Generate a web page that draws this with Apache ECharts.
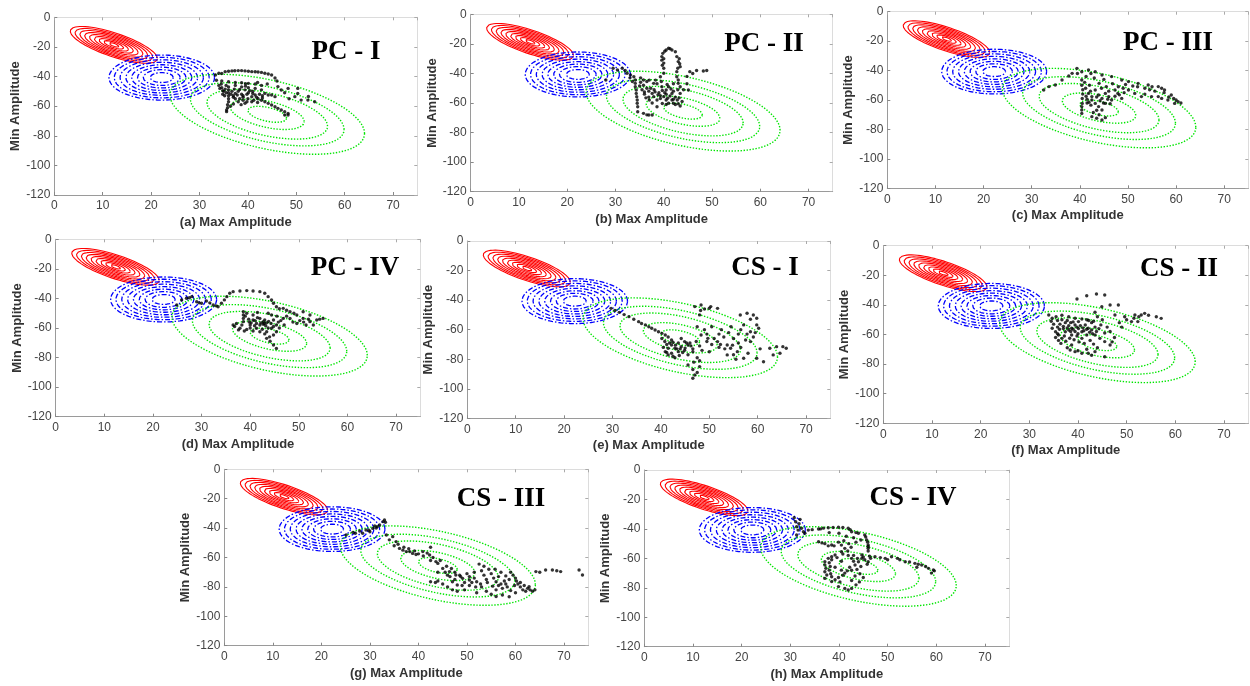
<!DOCTYPE html>
<html>
<head>
<meta charset="utf-8">
<script src="https://cdn.jsdelivr.net/npm/echarts@6/dist/echarts.min.js"></script>
<style>
html,body{margin:0;padding:0;background:#fff;}
#chart{width:1250px;height:686px;}
</style>
</head>
<body>
<div id="chart"></div>
<script>
// ---- data ----
const panelTitles = ['PC - I','PC - II','PC - III','PC - IV','CS - I','CS - II','CS - III','CS - IV'];
const xAxisNames = ['(a) Max Amplitude','(b) Max Amplitude','(c) Max Amplitude','(d) Max Amplitude','(e) Max Amplitude','(f) Max Amplitude','(g) Max Amplitude','(h) Max Amplitude'];
const yAxisName = 'Min Amplitude';

// Gaussian contour components: centre, spread (x,y), correlation, contour levels
const redCenter = [12.3,-18.6];
const redSpread = [9.0,12.4];
const redRho = -0.74;
const redLevels = [1,0.89,0.78,0.67,0.56,0.45,0.34,0.23,0.12];

const blueCenter = [22.2,-40.7];
const blueSpread = [10.9,15.2];
const blueRho = 0.0;
const blueLevels = [1,0.9,0.79,0.68,0.57,0.46,0.35,0.22];

const greenCenter = [44.0,-65.5];
const greenSpread = [20.1,27.0];
const greenRho = -0.48;
const greenLevels = [1,0.79,0.62,0.38,0.2];

const pointsA = [[33.3,-39],[34,-37.8],[35.3,-36.7],[36.7,-36.2],[38,-36],[39.4,-36.2],[40.8,-36.7],[42.1,-36.9],[43.5,-37.8],[44.9,-39],[45.6,-41],[46,-43],
[34.6,-38],[36,-36.4],[37.3,-36.1],[38.7,-36],[40.1,-36.4],[41.5,-36.8],[42.8,-37.2],[44.2,-38.3],
[33.5,-42.5],[34.6,-43],[36,-43.5],[37.4,-44],[38.7,-44.2],[40.1,-44.6],[41.5,-45],[42.8,-46],
[34,-46],[34.6,-47.5],[35.3,-48.5],[36,-47],[36,-49],[36,-51],[36,-53],[36,-55],[36,-57],[35.8,-59],[35.8,-61],[35.6,-62.6],[35.6,-63.7],[36.7,-50],[37.4,-51.4],[38,-50],[38.7,-52],[39.4,-49],[40.1,-51],[40.8,-53.6],[41.5,-52.5],[40,-55],[39,-56],[38,-57],[37.4,-55],[39.4,-58],[40.8,-57],[42.1,-55],[42.8,-56],[43.5,-57],[44.2,-58.1],[44.9,-59.2],[45.6,-60.4],[46.2,-61.5],[46.9,-62.6],[47.6,-63.7],[48.3,-64.9],[48.3,-66],[47.6,-66],[41.5,-48],[42.8,-49],[43.5,-51.4],[44.2,-52.5],[38.7,-47],[37.4,-46],[40.1,-47.5],[35,-50],[34.8,-52],[37,-53],[39,-54],[41,-50],[43,-53],
[34.2,-48],[34.8,-49.5],[35.5,-51],[35.2,-53],[36.5,-52],[37,-54],[37.8,-52.5],[38.3,-55],[39,-53],[39.8,-52],[40.4,-49.5],[41,-51.5],[41.8,-54],[42.4,-52],[43,-54.5],[37.2,-48.5],[38.3,-48.8],[39.5,-46.5],[36.4,-60],[37,-58.5],[38.6,-59],[39.8,-57],[41.2,-56],[42,-57.5],[34.5,-45],[35.5,-46],[42,-44],[44,-45],[39.5,-44.8],
[46.2,-46.8],[46.9,-49.1],[48.3,-48],[50.3,-48],[49.7,-53.6],[51,-55.9],[52.4,-55.9],[53.8,-57],[52.5,-53.5],[45.6,-53.6],[44.9,-52.5],[50.3,-51.4],[47.6,-51],[48.5,-55]];

const pointsB = [[28,-44.4],[29.5,-36.5],[30.4,-37.7],[31.4,-36.5],[32,-38],[32.4,-39.9],[33.1,-41],[33.8,-42.2],
[34.1,-44.4],[34.1,-46.7],[34.1,-49],[34.3,-51.2],[34.3,-53.5],[34.4,-55.7],[34.5,-58],[34.5,-60.2],[34.6,-62.5],[34.6,-65.9],[35.2,-46],[35.8,-48],[36.5,-50],[36.9,-52],[37.6,-53.5],[37.9,-55.7],[38.6,-58],[39.3,-57],[40,-55.7],[40.5,-58],[41,-60.2],[41.7,-58],[42,-60.2],[42.4,-61],[43,-60.5],[43.4,-62],[42.4,-56],[41.7,-53.5],[40.5,-51.2],[39.6,-49],[38.6,-47],[37.9,-46.7],[36.5,-45.5],[35.8,-44.4],[35.2,-43],[36.9,-56],[37.6,-60],[38.6,-62.5],[39.3,-55],[41,-49],[42,-47],[43,-46.7],[43.4,-49],[44.1,-51],[43.4,-53.5],[44.8,-47],[45.1,-51.2],[38,-51],[39,-53],[40.5,-54],[42,-52],[36,-54],
[33,-43],[33.5,-45.5],[35,-48.5],[35.5,-51],[36,-52.5],[36.3,-56.5],[37,-58],[37.3,-50],[38.2,-52.5],[38.8,-54.5],[39.7,-51.5],[40.2,-53],[40.8,-56.8],[41.3,-55.3],[42,-57.5],[42.8,-58],[43.2,-56.5],[42.9,-51],[41.5,-50.5],[40.7,-47.5],[39.5,-45.5],[38.3,-44.5],[37,-44.5],[43.8,-59],[39.7,-60.3],[40.5,-61],
[35.8,-67],[36.5,-68],[36.9,-68.1],[37.6,-68.1],
[39.6,-28.6],[39.8,-26.4],[40.5,-24.1],[41,-23],[41.7,-24.1],[42.4,-25.3],[42.7,-28.6],[43,-32],[43.4,-35.4],[42.7,-38.8],[40,-30],[40,-33],[40,-36.5],[40,-39.9],[39.3,-42.2],[42.7,-42.2],[43,-44.4],
[39.6,-31],[39.7,-34.5],[43.2,-30],[43.3,-33.5],[42.9,-36.5],[41.3,-23.3],[40.2,-25],
[45.4,-38.8],[46.8,-38],[48.2,-38.4],[48.9,-38],[44.8,-42],[46,-40]];

const pointsC = [[32.5,-53.2],[33.6,-50.9],[34.9,-49.8],[36.3,-46.4],[37.7,-43.7],[38.4,-41.9],[39.4,-38.5],[40.4,-40.8],
[41.8,-39.6],[43.2,-40.8],[44.6,-43],[46.6,-44.1],[48.7,-46.4],[50.1,-47.5],[52.1,-48.7],[54.2,-49.8],[56.3,-50.9],[57.6,-53.2],[59,-56.6],[60,-60],[60.4,-61.1],[59.7,-62.3],[58.3,-60],[57,-58.9],[56.3,-57.7],[54.9,-57.7],[53.5,-56],[52.8,-57.7],[51.4,-55.5],[50.1,-53.2],[49,-52],[52,-51],[54.5,-53],[57.5,-55],[55.6,-54],
[40.4,-46.4],[40.4,-50],[40.6,-53],[40.6,-56],[40.5,-59],[40.5,-62.3],[40.4,-64.5],[40.4,-66.8],[40.4,-69.1],[41.2,-52],[41.8,-55.5],[42.5,-57.7],[43.2,-53.2],[43.9,-56.6],[44.6,-58.9],[45.3,-55.5],[46,-57.7],[46.6,-60],[47.3,-53.2],[47.9,-55.5],[48.7,-58.9],[42.5,-60],[43.2,-62.3],[43.9,-64.5],[44.6,-66.8],[45.3,-62.3],[42,-50],[44,-48.7],[45.5,-50.9],[41.5,-62],[43.5,-67],[42.2,-54],[44.5,-52],[46,-54],
[41,-48],[41.3,-57.5],[41.5,-59.5],[41.9,-61.5],[42.3,-63.5],[43.5,-58],[44.2,-60.5],[44.9,-62],[45.8,-59.5],[46.3,-62.5],[47.3,-57.5],[48.2,-56.5],[49.2,-55],[48,-51],[46.8,-49],[45,-46],[43,-45],[41.3,-44],[42.3,-42],[55,-51],[57,-52],[58.5,-58],[59.5,-59],[61,-62],[53.5,-52],[51,-50.5],[49.5,-49.5],[39.5,-42],[44,-70],[42.8,-68.5],
[42.5,-71.3],[43.5,-72.4],[44.6,-73.6],[45.3,-72]];

const pointsD = [[24.9,-44.4],[25.9,-41.1],[26.9,-39.9],[28,-38.8],[29,-42.2],[30,-43.3],[31,-41.7],[32.4,-44.4],[33.4,-45.6],[34.1,-43.3],[35.2,-38.8],[35.8,-36.5],
[27.5,-39.5],[29.5,-43],[31.7,-43],[33,-45],[34.7,-41],
[36.5,-35.4],[37.9,-35],[39.3,-34.7],[40.6,-35],[42,-35.4],[43,-36.5],[43.7,-38.8],[44.4,-41.1],[44.8,-43.3],[45.4,-45.6],
[38.6,-49],[38.6,-51.2],[38.6,-53.5],[38.6,-55.7],[38.3,-58],[37.9,-60.2],[36.5,-58],[37.2,-57],[39.3,-50],[40.6,-51.2],[40.6,-54.6],[41.3,-57],[42,-58],[42.7,-55.7],[43,-54.6],[43.4,-56.5],[42.7,-57.5],[42,-53.5],[41.3,-60.2],[42,-62.5],[40.6,-62],[39.3,-61],[43.4,-62.5],[44.4,-60.2],[45.4,-58],[44.8,-54.6],[44.4,-51.2],[46.8,-53.5],[45.4,-62.5],[44.8,-64.7],[43.7,-60],[40,-58],[41.5,-49.5],[43.7,-50],[39.8,-56],[41,-55],
[39,-52],[39.7,-54],[40.2,-56.5],[40.9,-58.5],[41.5,-53],[42.2,-56.5],[42.9,-57],[43.2,-58.5],[43.8,-55.5],[44.3,-57],[44.8,-59],[45.8,-56],[46.3,-55],[45.5,-52],[47.5,-52],[36.8,-59],[37.6,-61.3],[38.8,-62],[40,-60],[42.5,-60.8],[43,-64],[44,-66],[46,-60],[47,-58],
[43.4,-67],[44.1,-69],[44.8,-71.5],[45.4,-73.8],
[46.8,-46.7],[48.2,-49],[49.6,-51.2],[50.9,-53.5],[52.3,-55.7],[53.7,-54.6],[55,-53.5],[48.2,-53.5],[50.2,-55],[49.6,-57],[51.5,-58],[53,-58],[50.9,-49],[52.3,-51.2],[48.8,-56],[51,-56],[52,-54],[54.3,-54],[49,-50],[47.5,-48],[46,-47]];

const pointsE = [[29.7,-45.6],[31.4,-48.3],[33.4,-51.2],[35.4,-54.6],[36.8,-56.8],[38.1,-59.1],[39.5,-61.4],[40.9,-63.6],
[30.5,-47],[32.4,-49.8],[34.4,-53],[36,-55.8],[37.5,-58],[38.8,-60.2],[40.2,-62.5],
[41.5,-65],[42.2,-67],[42.2,-70.4],[42.9,-72.6],[43.6,-69],[43.6,-74.9],[44.2,-71.5],[44.9,-68.1],[44.9,-74],[45.6,-70.4],[45.6,-77],[41.5,-72.6],[40.9,-74.9],[41.5,-77.1],[42.2,-76],[42.9,-79],[44.2,-66],[46,-69],[46.6,-73],[46.6,-75],
[40.2,-66],[40.8,-68],[41.2,-70],[41.8,-69],[42.5,-68.5],[43,-70.5],[43.3,-73],[44,-73],[44.5,-75.5],[45,-72.5],[45.3,-69],[43.8,-77.5],[42.5,-78],[41.2,-75.5],[40.5,-72],[46.2,-71],[47.3,-68],[48,-71],[48.5,-74],[47.5,-79],[48,-81],[46.8,-82],
[45.6,-83.9],[46.6,-87],[47,-90.7],[46.6,-92.9],[47.5,-89],[48,-85],
[47,-44.4],[48.3,-43.3],[50.3,-44.4],[51.7,-45.6],[49,-46],[48,-50],[48.2,-47],[50,-45.5],
[56.4,-50.1],[57.8,-48.9],[59.1,-50.1],[59.8,-52.3],[59.8,-56.8],[60.2,-59.1],[57.1,-56.8],[58.5,-61.4],[58.5,-68.1],[59.1,-65],[57.8,-63],[56.5,-60],[59.5,-62],[58.5,-53],
[48.3,-63.6],[49.7,-65.9],[51.7,-68.1],[53.7,-70.4],[54.4,-72.6],[55.8,-74.9],[53.7,-77.1],[57.1,-79.4],[59.8,-79.4],[61.2,-81.7],[50.5,-70],[52,-72],[50,-75],[52.5,-60],[54,-62],[55,-66],[56,-69],[53,-65],[49,-60],[50.5,-58],[47.5,-58],[55,-77],
[49.5,-68],[51,-66],[52.3,-70],[53.2,-73],[54.8,-70.5],[56.5,-72],[55.5,-80],[58,-76],[60.5,-73],[57.5,-67],[56,-63],[54.5,-58],[52,-63],[49.5,-63],
[62.5,-72.6],[63.9,-71.5],[65.2,-71.5],[65.9,-72.6],[64.6,-76],[63.2,-77.1]];

const pointsF = [[34,-46.8],[34.7,-49],[34.5,-51],[35,-53],[34.7,-55.8],[35.4,-58.1],[36,-60.3],[36.7,-62.6],[36,-64],[35.4,-62],[36.7,-50],[37.4,-52],[38.1,-54],[38.7,-55.8],[39.4,-53.6],[40.1,-56],[40.8,-58.1],[40.1,-51.3],[41.5,-53.6],[42.1,-55.8],[42.8,-57],[43.5,-55],[42.8,-52],[41.8,-50],[39.4,-58],[38.7,-60.3],[38.1,-57],[37.4,-58.1],[39.8,-61],[40.8,-62.6],[41.8,-60.3],[43.5,-60.3],[44.5,-62.6],[45.5,-64.8],[46.6,-67.1],[47,-65],[46.6,-58],[46,-55],[45,-50],[44,-48],[36.7,-47],[38.1,-48],[39.4,-49],[37,-56],[35.8,-55],[40,-59.5],[38.5,-52],
[35.5,-48],[35.8,-50.5],[36.3,-53],[36.2,-56.5],[37,-54.5],[37.8,-55.5],[38.5,-58],[39,-56.5],[39.8,-55],[40.5,-54],[41,-55.5],[41.2,-57.5],[41.8,-56.5],[42.4,-58.5],[43,-59.5],[43.8,-58],[44.3,-56],[44.7,-53.5],[43.2,-51],[42.2,-50.5],[40.8,-49.5],[39,-51.5],[37.8,-50.5],[35.8,-59.5],[37.2,-61],[38.3,-62.5],[39.2,-63.5],[40.2,-65],[41.3,-66],[42.5,-64],[43.2,-66.5],[44,-69],[37.5,-64.5],[36.5,-66],[37.8,-69],[38.4,-70.5],[40,-71],[42.8,-74],[45.5,-59],[47.5,-62],
[38.7,-67.1],[39.4,-71.6],[40.8,-72.7],[42.1,-72.7],[43.5,-71.6],[45.5,-75],[41.8,-70],
[39.8,-36],[41.8,-33.8],[43.8,-32.6],[45.5,-33.3],[44.9,-41.2],[46.6,-40.1],[48.3,-40.1],[47.6,-46.8],[43.5,-45],
[49.6,-48],[51,-51.3],[51.7,-46.8],[53,-46.8],[52.3,-51.3],[53.7,-45.7],[56.1,-48],[57.1,-49.1],[48.5,-52],[50,-50],[49,-55],[51.5,-49],[52.5,-48],[54.5,-47]];

const pointsG = [[25.1,-44.7],[26.5,-42.9],[27.9,-42],[29.2,-41.3],[30.6,-40.2],[32,-37.9],[32.7,-35.6],[33,-34.5],[31.5,-39],[30,-42.5],[28.5,-43.5],
[31.3,-40],[33.2,-36],[27,-43.5],[29.8,-41.5],[31,-38.5],
[33.4,-44.7],[34.7,-45.8],[35.4,-49.2],[36.1,-53.8],[37.5,-56],[38.8,-57.2],[40.9,-56],[42.3,-58.3],[43.6,-62.8],[45,-67.4],[46.4,-69.6],[47.7,-71.9],[49.1,-74.2],[50.5,-75.3],[35,-52],[36.8,-55],[38,-54],[39.5,-58],[41,-59],[42.5,-53],
[34,-48],[35.8,-51],[37,-53],[38.2,-56],[39.2,-55.5],[40,-57.5],[41.8,-57],[43,-60],[44.5,-62],[45.8,-66],[46.8,-67.5],[47.5,-70],[48.7,-73],[49.5,-77],[50.5,-79],[42.5,-62],
[44,-64],[45.5,-70],[46.5,-73],[47,-76.5],[48,-78.7],[48.5,-72],[50,-71],[51,-77],[51.8,-80],[52.5,-64.5],[53.5,-66],[54.5,-68],[55,-71],[55.5,-74],[56,-76.5],[56.5,-79],[57.3,-81],[58,-78],[58.7,-75],[59.5,-72],[60,-74],[60.5,-78],[61,-80],[61.5,-82],[62.1,-83],[63,-82],[64,-82],[53,-80],[54,-83],[55,-85],[56,-86.5],[57.3,-85.5],[58.7,-86.7],[60,-84],[52,-84],[49.5,-82],[48,-83],[46,-80],[44,-76],[42.5,-76.5],[54,-75],[51.5,-70],[57,-70],
[51.5,-74],[52,-76.5],[52.8,-78],[53.5,-72],[54.2,-77],[55.3,-79.5],[56,-82],[57,-78],[57.7,-76],[58.3,-80],[59,-82.5],[59.8,-79],[60.2,-76],[61,-77],[61.8,-79],[62.5,-81],[63.5,-83],[59,-70],[58,-72.5],[56.5,-73],[55.8,-68],[53,-69],[50.5,-73],[49,-79],[47,-82],[45,-78],[43.5,-77],[47.5,-75],[46,-72],[44,-70],
[62.8,-79.9],[64.2,-69.6],[66.2,-68.5],[67.6,-68.5],[69.3,-69.6],[73.1,-68.5],[73.8,-71.9],[65,-70],[68.5,-69]];

const pointsH = [[30.8,-32.4],[31.1,-35.1],[31.3,-38.5],[31.6,-40.8],[31.3,-44.1],[32.3,-39.6],[32.7,-41.9],[33,-43],[31.8,-36.5],[32,-33.5],
[33.7,-40.8],[35.8,-40.1],[37.8,-39.2],[39.9,-38.9],[41.9,-39.6],[42.6,-41.9],[44,-43],[45.3,-44.1],[45.7,-47.5],[46,-50.9],[46,-53.2],[38,-42.5],[40,-43],[41.5,-45],[43,-46],[44.5,-47.5],[43.5,-49],
[36.2,-40],[34.5,-40.5],[36.8,-39.5],[38.8,-39],[40.8,-39],[42.3,-40.5],[43.5,-42.5],[45.5,-45.5],[45.9,-49],[46,-52],[46,-55],
[35.8,-48.7],[37.1,-50],[38.5,-50.9],[39.9,-49],[41.2,-53.2],[40.5,-55.5],[39.2,-57.7],[38.5,-58.9],[37.8,-60],[37.1,-62.3],[37.1,-64.5],[37.3,-66.8],[37.1,-69.1],[37.5,-71.3],[37.1,-73.6],[38.5,-75.8],[39.9,-73],[41.2,-70],[42.6,-68],[43.3,-64.5],[44,-62.3],[44.7,-60],[45.3,-61],[46,-62.3],[42.6,-60],[41.9,-58],[40.5,-62],[39.2,-66],[40.5,-68],[43.3,-72],[42.6,-75],[43,-58],[44.7,-57.7],[46.5,-60],
[36.5,-49.5],[37.8,-51.5],[39,-51.5],[40.5,-51],[41,-48],[42,-50],[42.5,-52.5],[41.8,-55],[40.8,-57],[39.6,-59.5],[38.5,-61],[38,-63],[38.2,-65.5],[38,-68],[38.3,-70.5],[38.5,-72.5],[39.2,-74.5],[40.2,-76],[40.8,-71.5],[41.7,-68.5],[42.2,-66],[43,-62],[43.8,-60],[45,-59],[46.3,-58.5],[45.8,-64],[44.5,-65.5],[43.7,-67.5],[44.3,-70.5],[45,-73],[44.2,-76],[43.5,-78],
[39.9,-79.2],[41.2,-80.4],[41.9,-81.5],[42.6,-80.4],
[47.4,-58.9],[49.5,-60],[50.8,-58.9],[53.6,-62.3],[55.6,-63.4],[57,-64.5],[58.4,-66.8],[59.4,-67.9],[59,-70],[56,-66],[52,-60],[48.5,-59.5],[50,-61],[52.5,-61],[54.5,-62.5],[56.3,-64],[57.8,-65.5],[59.6,-68.5]];

const panelPoints = [pointsA,pointsB,pointsC,pointsD,pointsE,pointsF,pointsG,pointsH];

// ---- layout ----
const gridBoxes = [
  {left:54.3, top:17.3, width:363, height:177.7},
  {left:470.7, top:14.3, width:362, height:177.4},
  {left:887.3, top:11.7, width:361, height:176.6},
  {left:55.7, top:239.3, width:364.6, height:177.4},
  {left:467.3, top:241, width:363, height:177.3},
  {left:883.3, top:245.7, width:365, height:177.6},
  {left:224.3, top:469.3, width:364, height:176.4},
  {left:644.3, top:470, width:365, height:176.7}
];
const titlePos = [[346,52],[764,44],[1168,43],[355,268],[765,268],[1179,269],[501,499],[913,498]];

function ellipsePts(c, s, rho, r){
  const out = [];
  const n = 140;
  const q = Math.sqrt(1 - rho*rho);
  for (let k = 0; k <= n; k++){
    const t = 2*Math.PI*k/n;
    out.push([c[0] + r*s[0]*Math.cos(t), c[1] + r*s[1]*(rho*Math.cos(t) + q*Math.sin(t))]);
  }
  return out;
}

const grid = [], xAxis = [], yAxis = [], series = [], graphic = [];
const lblFont = 'Liberation Sans, Arial, sans-serif';
gridBoxes.forEach((g, i) => {
  grid.push(Object.assign({containLabel:false}, g));
  xAxis.push({
    gridIndex:i, type:'value', min:0, max:75, interval:10,
    axisLine:{onZero:false, lineStyle:{color:'#9a9a9a', width:1}},
    axisTick:{inside:true, length:3, lineStyle:{color:'#888'}},
    axisLabel:{showMaxLabel:false, color:'#444', fontSize:12, margin:5, fontFamily:lblFont},
    splitLine:{show:false},
    name:xAxisNames[i], nameLocation:'middle', nameGap:21,
    nameTextStyle:{fontWeight:'bold', fontSize:13, color:'#333', fontFamily:lblFont}
  });
  xAxis.push({
    gridIndex:i, type:'value', min:0, max:75, interval:10, position:'top',
    axisLine:{show:true, onZero:false, lineStyle:{color:'#dcdcdc', width:1}},
    axisTick:{show:true, inside:true, length:3, lineStyle:{color:'#aaa'}},
    axisLabel:{show:false}, splitLine:{show:false}
  });
  yAxis.push({
    gridIndex:i, type:'value', min:-120, max:0, interval:20,
    axisLine:{show:true, onZero:false, lineStyle:{color:'#9a9a9a', width:1}},
    axisTick:{show:true, inside:true, length:3, lineStyle:{color:'#888'}},
    axisLabel:{color:'#444', fontSize:12, margin:4, fontFamily:lblFont},
    splitLine:{show:false},
    name:yAxisName, nameLocation:'middle', nameGap:26,
    nameTextStyle:{fontWeight:'bold', fontSize:13, color:'#333', fontFamily:lblFont}
  });
  yAxis.push({
    gridIndex:i, type:'value', min:-120, max:0, interval:20, position:'right',
    axisLine:{show:true, onZero:false, lineStyle:{color:'#dcdcdc', width:1}},
    axisTick:{show:true, inside:true, length:3, lineStyle:{color:'#aaa'}},
    axisLabel:{show:false}, splitLine:{show:false}
  });
  const xi = 2*i, yi = 2*i;
  const comps = [
    {c:redCenter, s:redSpread, rho:redRho, lv:redLevels, color:'#ff0000', type:'solid', w:1.1},
    {c:blueCenter, s:blueSpread, rho:blueRho, lv:blueLevels, color:'#0000ff', type:[5,2,1.5,2], w:1.3},
    {c:greenCenter, s:greenSpread, rho:greenRho, lv:greenLevels, color:'#00e600', type:[1.4,1.6], w:1.4}
  ];
  comps.forEach(cp => {
    cp.lv.forEach(r => {
      series.push({
        type:'line', xAxisIndex:xi, yAxisIndex:yi, data:ellipsePts(cp.c, cp.s, cp.rho, r),
        showSymbol:false, symbol:'none', silent:true, animation:false,
        lineStyle:{color:cp.color, width:cp.w, type:cp.type}
      });
    });
  });
  series.push({
    type:'scatter', xAxisIndex:xi, yAxisIndex:yi, data:panelPoints[i],
    symbol:'circle', symbolSize:3.4, itemStyle:{color:'#000'}, silent:true, animation:false, z:5
  });
  graphic.push({
    type:'text', x:titlePos[i][0], y:titlePos[i][1], z:10,
    style:{text:panelTitles[i], font:'bold 27px "Liberation Serif", "Times New Roman", serif', fill:'#000',
      align:'center', verticalAlign:'middle', textAlign:'center', textVerticalAlign:'middle'}
  });
});

const chart = echarts.init(document.getElementById('chart'), null, {renderer:'canvas'});
chart.setOption({
  backgroundColor:'#ffffff',
  animation:false,
  grid, xAxis, yAxis, series, graphic
});
</script>
</body>
</html>
